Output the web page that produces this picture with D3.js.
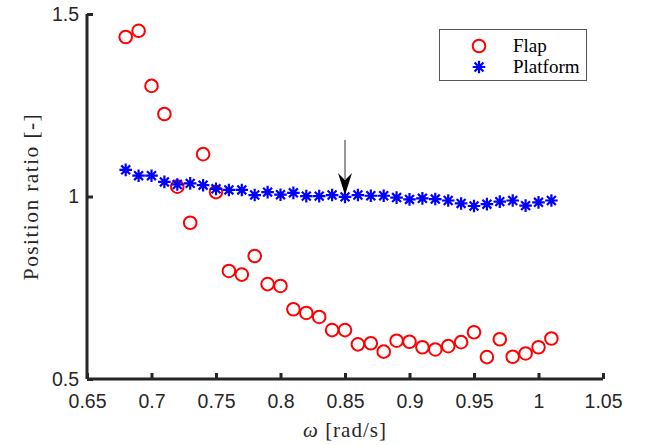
<!DOCTYPE html>
<html>
<head>
<meta charset="utf-8">
<script src="https://cdn.jsdelivr.net/npm/d3@7"></script>
<style>
  body { margin: 0; background: #fff; }
  svg { display: block; }
</style>
</head>
<body>
<svg id="chart" width="648" height="445"></svg>
<script>
// frequency (rad/s)
var omega = [0.68, 0.69, 0.70, 0.71, 0.72, 0.73, 0.74, 0.75, 0.76, 0.77, 0.78,
  0.79, 0.80, 0.81, 0.82, 0.83, 0.84, 0.85, 0.86, 0.87, 0.88, 0.89, 0.90,
  0.91, 0.92, 0.93, 0.94, 0.95, 0.96, 0.97, 0.98, 0.99, 1.00, 1.01];

var flap = [1.437, 1.454, 1.303, 1.226, 1.027, 0.928, 1.116, 1.012, 0.796, 0.786, 0.837,
  0.760, 0.755, 0.691, 0.681, 0.670, 0.634, 0.634, 0.595, 0.598, 0.575, 0.605, 0.602,
  0.587, 0.581, 0.590, 0.601, 0.628, 0.560, 0.609, 0.561, 0.570, 0.587, 0.611];

var platform = [1.073, 1.057, 1.057, 1.040, 1.033, 1.036, 1.031, 1.021, 1.018, 1.018, 1.004,
  1.012, 1.005, 1.010, 1.001, 1.001, 1.004, 0.999, 1.004, 1.002, 1.002, 0.997, 0.992,
  0.995, 0.993, 0.989, 0.981, 0.974, 0.979, 0.986, 0.989, 0.975, 0.984, 0.989];

var xTicks = [0.65, 0.7, 0.75, 0.8, 0.85, 0.9, 0.95, 1, 1.05];
var yTicks = [0.5, 1, 1.5];

// arrow annotation: points at the platform value at 0.85
var arrowX = 0.85, arrowFrom = 1.155, arrowTo = 1.004;

var svg = d3.select("#chart");
var margin = {left: 87, right: 45, top: 14, bottom: 66};
var width = 648, height = 445;
var axisColor = "#262626";
var serif = "'Liberation Serif', 'DejaVu Serif', serif";
var sans = "'Liberation Sans', Arial, sans-serif";

var x = d3.scaleLinear().domain([0.65, 1.05]).range([margin.left, width - margin.right]);
var y = d3.scaleLinear().domain([0.5, 1.5]).range([height - margin.bottom, margin.top]);

// markers
svg.append("g")
  .selectAll("circle")
  .data(omega)
  .join("circle")
  .attr("cx", d => x(d))
  .attr("cy", (d, i) => y(flap[i]))
  .attr("r", 6.3)
  .attr("fill", "none")
  .attr("stroke", "#ff0000")
  .attr("stroke-width", 2);

function star(g, s) {
  var d = s * 0.707;
  g.append("path")
    .attr("d", `M${-s},0H${s}M0,${-s}V${s}M${-d},${-d}L${d},${d}M${-d},${d}L${d},${-d}`)
    .attr("stroke", "#0000ff")
    .attr("stroke-width", 2.2)
    .attr("fill", "none");
}

svg.append("g")
  .selectAll("g")
  .data(omega)
  .join("g")
  .attr("transform", (d, i) => `translate(${x(d)},${y(platform[i])})`)
  .each(function() { star(d3.select(this), 6.3); });

// arrow
var ax = x(arrowX);
svg.append("line")
  .attr("x1", ax).attr("x2", ax)
  .attr("y1", y(arrowFrom)).attr("y2", y(arrowTo) - 16)
  .attr("stroke", "#333").attr("stroke-width", 1);
var tip = y(arrowTo);
svg.append("path")
  .attr("d", `M${ax},${tip}L${ax - 7},${tip - 22}L${ax},${tip - 15}L${ax + 7},${tip - 22}Z`)
  .attr("fill", "#000");

// axes
var xAxis = svg.append("g")
  .attr("transform", `translate(0,${y(0.5)})`)
  .call(d3.axisBottom(x).tickValues(xTicks).tickSize(-6).tickPadding(15).tickFormat(d3.format("~g")));
var yAxis = svg.append("g")
  .attr("transform", `translate(${x(0.65)},0)`)
  .call(d3.axisLeft(y).tickValues(yTicks).tickSize(-6).tickPadding(8).tickFormat(d3.format("~g")));

[xAxis, yAxis].forEach(function(a) {
  a.select(".domain").attr("stroke", axisColor).attr("stroke-width", 3);
  a.selectAll(".tick line").attr("stroke", axisColor).attr("stroke-width", 3);
  a.selectAll(".tick text").attr("fill", axisColor).style("font-family", sans).style("font-size", "19.5px");
});
xAxis.select(".domain").attr("d", `M${x(0.65)},0H${x(1.05)}`);
yAxis.select(".domain").attr("d", `M0,${y(0.5)}V${y(1.5)}`);

// axis labels
svg.append("text")
  .attr("x", (x(0.65) + x(1.05)) / 2)
  .attr("y", 437)
  .attr("text-anchor", "middle")
  .style("font-family", serif)
  .style("font-size", "21px")
  .style("letter-spacing", "1px")
  .attr("fill", axisColor)
  .html("<tspan font-style='italic'>ω</tspan> [rad/s]");

svg.append("text")
  .attr("transform", `translate(30,${y(1)}) rotate(-90)`)
  .attr("text-anchor", "middle")
  .attr("dy", "0.35em")
  .style("font-family", serif)
  .style("font-size", "21.5px")
  .style("letter-spacing", "1.4px")
  .attr("fill", axisColor)
  .text("Position ratio [-]");

// legend
var legend = svg.append("g");
legend.append("rect")
  .attr("x", 439.5).attr("y", 29.5)
  .attr("width", 147).attr("height", 51)
  .attr("fill", "#fff")
  .attr("stroke", "#555")
  .attr("stroke-width", 1);
legend.append("circle")
  .attr("cx", 479).attr("cy", 46).attr("r", 6.3)
  .attr("fill", "none").attr("stroke", "#ff0000").attr("stroke-width", 2);
star(legend.append("g").attr("transform", "translate(479,67)"), 6.3);
[["Flap", 45], ["Platform", 66]].forEach(function(l) {
  legend.append("text")
    .attr("x", 513).attr("y", l[1])
    .attr("dy", "0.35em")
    .style("font-family", serif)
    .style("font-size", "19px")
    .attr("fill", "#000")
    .text(l[0]);
});
</script>
</body>
</html>
